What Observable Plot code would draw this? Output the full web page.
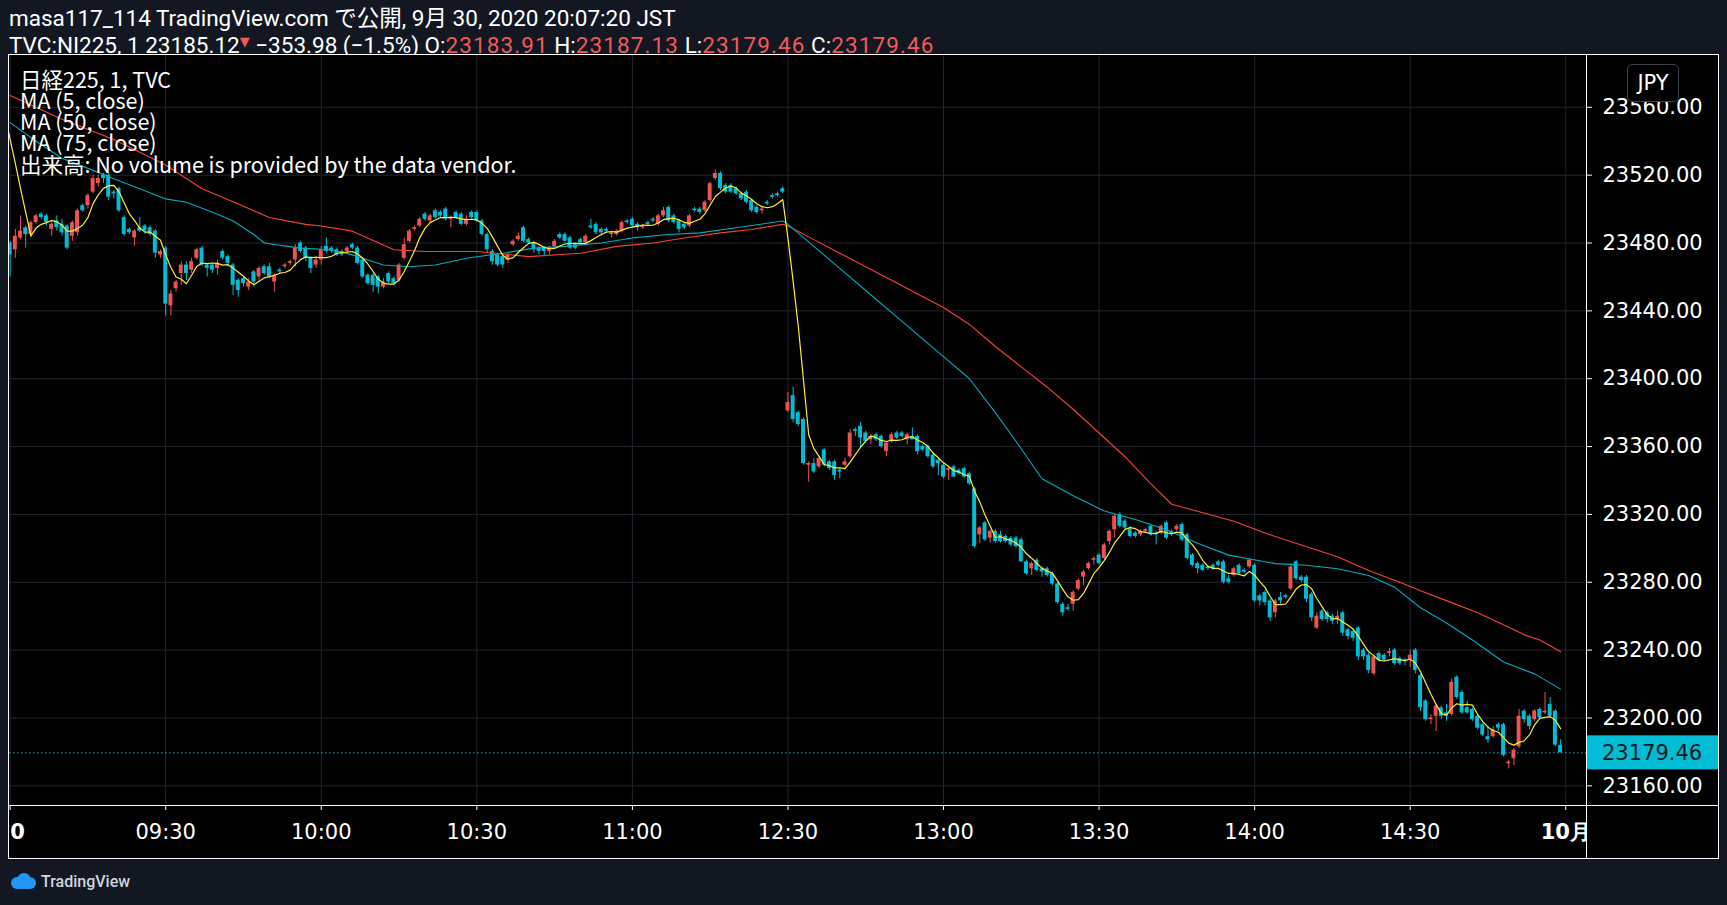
<!DOCTYPE html>
<html><head><meta charset="utf-8">
<script src="https://cdn.jsdelivr.net/npm/d3@7"></script>
<script src="https://cdn.jsdelivr.net/npm/@observablehq/plot@0.6"></script>
<style>
html,body{margin:0;padding:0;background:#131722;}
body{width:1727px;height:905px;position:relative;overflow:hidden;font-family:Roboto,"Noto Sans CJK JP",sans-serif;color:#fff;}
.hdr{position:absolute;left:9px;white-space:nowrap;font-size:22.5px;line-height:23px;color:#fff;}
.red{color:#f05a5a;letter-spacing:1.1px;}
.tri{font-size:13px;vertical-align:7px;color:#f05a5a;font-family:"DejaVu Sans";}
#panel{position:absolute;left:8px;top:54px;width:1709px;height:803px;border:1px solid #fff;background:#000;overflow:hidden;}
.leg{position:absolute;left:11px;font-family:"Noto Sans CJK JP",sans-serif;font-size:21.5px;line-height:21px;height:21px;white-space:nowrap;color:#fff;}
#jpy{position:absolute;left:1627px;top:64px;width:50px;height:36px;border:1px solid #3a3e4a;border-radius:5px;background:#000;color:#fff;font-family:"DejaVu Sans";font-size:21px;line-height:36px;text-align:center;}
#foot{position:absolute;left:9px;top:870px;height:22px;display:flex;align-items:center;gap:4px;font-family:Roboto,sans-serif;font-size:16px;font-weight:500;color:#d1d4dc;}
</style></head><body>
<div class="hdr" style="top:7px">masa117_114 TradingView.com で公開, 9月 30, 2020 20:07:20 JST</div>
<div class="hdr" style="top:30px">TVC:NI225, 1 23185.12<span class="tri">▼</span> −353.98 (−1.5%) O:<span class="red">23183.91</span> H:<span class="red">23187.13</span> L:<span class="red">23179.46</span> C:<span class="red">23179.46</span></div>
<div id="panel"></div>
<div id="jpy">JPY</div>
<div id="foot"><svg width="28" height="18" viewBox="0 0 28 18"><circle cx="8" cy="11" r="6" fill="#2196f3"/><circle cx="15" cy="8" r="7" fill="#2196f3"/><circle cx="21" cy="11" r="6" fill="#2196f3"/><rect x="8" y="11" width="13" height="6" fill="#2196f3"/></svg><span>TradingView</span></div>
<script>
// ---- data (1-minute bars, 09:00-11:29 and 12:30-14:59, index = bar number) ----
const opens = [
23480,23476,23483,23489,23485,23492,23497,23496,23488,23493,
23491,23490,23484,23486,23502,23502,23510,23515,23520,23520,
23510,23512,23495,23488,23483,23489,23490,23489,23487,23473,
23477,23443,23453,23462,23467,23464,23471,23477,23467,23467,
23465,23475,23472,23467,23458,23459,23454,23463,23460,23466,
23466,23457,23464,23466,23468,23470,23480,23477,23471,23467,
23470,23478,23477,23476,23475,23475,23479,23477,23470,23461,
23461,23460,23454,23462,23459,23458,23471,23481,23488,23490,
23497,23493,23499,23498,23500,23494,23498,23497,23491,23498,
23498,23493,23485,23475,23473,23472,23470,23479,23482,23489,
23482,23480,23477,23477,23475,23478,23485,23485,23483,23479,
23482,23480,23490,23491,23488,23488,23485,23485,23487,23493,
23494,23491,23489,23492,23494,23491,23496,23501,23496,23493,
23491,23490,23500,23500,23499,23505,23518,23521,23514,23514,
23512,23509,23510,23505,23501,23499,23504,23508,23509,23512,
23381,23390,23380,23376,23349,23350,23348,23358,23351,23351,
23346,23349,23354,23370,23372,23368,23364,23367,23366,23357,
23363,23368,23368,23364,23366,23366,23360,23360,23355,23352,
23349,23346,23348,23346,23347,23344,23335,23308,23315,23306,
23310,23308,23307,23306,23306,23305,23292,23288,23293,23288,
23288,23285,23279,23267,23265,23267,23276,23283,23288,23293,
23296,23294,23304,23311,23320,23316,23311,23309,23308,23310,
23313,23309,23309,23315,23310,23311,23314,23308,23296,23291,
23290,23289,23290,23292,23292,23282,23284,23290,23287,23289,
23290,23272,23274,23269,23262,23271,23272,23276,23292,23283,
23283,23273,23253,23263,23262,23260,23258,23262,23252,23251,
23253,23240,23237,23226,23238,23237,23238,23240,23235,23234,
23234,23240,23225,23210,23199,23201,23206,23203,23202,23224,
23215,23206,23205,23201,23196,23189,23189,23196,23196,23173,
23176,23183,23204,23201,23199,23205,23203,23208,23204,23183.91];
const highs = [
23481,23488,23496,23490,23493,23497,23498,23497,23492,23496,
23494,23491,23493,23500,23503,23509,23520,23520,23521,23521,
23511,23513,23496,23489,23488,23495,23491,23490,23488,23476,
23478,23452,23458,23469,23469,23471,23477,23478,23468,23468,
23470,23476,23473,23468,23459,23460,23459,23464,23466,23467,
23468,23462,23465,23468,23470,23479,23481,23478,23472,23472,
23478,23483,23478,23477,23476,23478,23480,23478,23471,23462,
23462,23461,23459,23463,23460,23468,23483,23488,23490,23495,
23498,23497,23500,23499,23501,23496,23499,23498,23496,23499,
23499,23494,23486,23476,23474,23473,23474,23482,23486,23490,
23483,23481,23478,23478,23478,23482,23486,23486,23484,23480,
23483,23485,23494,23492,23489,23489,23487,23488,23493,23494,
23495,23492,23491,23493,23495,23497,23501,23502,23497,23494,
23492,23497,23501,23501,23505,23516,23523,23522,23515,23515,
23513,23510,23511,23506,23502,23501,23505,23509,23510,23513,
23392,23395,23381,23377,23351,23353,23354,23359,23352,23352,
23347,23353,23370,23371,23374,23369,23367,23368,23367,23363,
23368,23369,23369,23368,23371,23367,23361,23361,23356,23353,
23350,23348,23349,23347,23348,23345,23336,23313,23316,23311,
23311,23310,23308,23307,23307,23306,23293,23292,23294,23289,
23289,23286,23280,23268,23267,23275,23282,23287,23292,23295,
23297,23303,23311,23320,23321,23317,23313,23310,23311,23312,
23314,23310,23314,23316,23311,23314,23315,23309,23297,23292,
23291,23290,23291,23293,23293,23284,23289,23291,23288,23294,
23291,23273,23275,23270,23270,23274,23273,23291,23293,23284,
23284,23274,23262,23264,23263,23261,23263,23263,23253,23252,
23254,23241,23238,23237,23239,23238,23241,23241,23236,23235,
23240,23241,23226,23211,23202,23208,23207,23208,23223,23225,
23216,23210,23206,23202,23197,23195,23195,23197,23197,23175,
23182,23205,23205,23202,23205,23206,23215,23212,23205,23187.13];
const lows = [
23460,23471,23482,23477,23483,23491,23494,23490,23484,23487,
23484,23476,23481,23484,23498,23500,23509,23513,23515,23505,
23506,23498,23484,23485,23478,23486,23485,23484,23471,23471,
23437,23437,23451,23455,23458,23462,23470,23466,23460,23462,
23461,23470,23466,23449,23448,23454,23452,23454,23458,23461,
23459,23451,23462,23465,23467,23466,23474,23469,23462,23465,
23467,23474,23474,23472,23472,23474,23476,23467,23459,23455,
23451,23450,23453,23456,23455,23457,23470,23480,23487,23489,
23493,23492,23494,23495,23493,23489,23494,23490,23490,23494,
23492,23484,23474,23467,23466,23465,23468,23478,23481,23480,
23479,23474,23473,23472,23473,23477,23482,23480,23476,23476,
23479,23479,23488,23485,23484,23486,23483,23484,23486,23491,
23489,23487,23488,23490,23492,23490,23495,23492,23491,23486,
23488,23489,23498,23497,23498,23504,23517,23511,23509,23509,
23508,23505,23503,23498,23497,23497,23502,23506,23507,23509,
23380,23374,23372,23349,23339,23344,23347,23348,23346,23340,
23341,23348,23353,23366,23359,23362,23361,23363,23359,23354,
23362,23364,23365,23361,23364,23355,23357,23353,23347,23343,
23341,23340,23342,23343,23341,23337,23300,23303,23304,23303,
23303,23303,23303,23301,23300,23292,23284,23284,23286,23283,
23283,23278,23267,23260,23263,23263,23275,23278,23287,23290,
23290,23293,23302,23306,23312,23311,23306,23306,23307,23309,
23307,23302,23308,23305,23307,23310,23304,23293,23289,23285,
23286,23287,23287,23289,23279,23279,23283,23284,23285,23288,
23268,23266,23266,23257,23259,23267,23270,23275,23281,23280,
23268,23257,23252,23257,23256,23255,23255,23248,23246,23245,
23234,23234,23226,23225,23233,23233,23236,23231,23231,23231,
23230,23226,23204,23198,23196,23192,23199,23198,23201,23211,
23202,23202,23198,23193,23189,23185,23188,23192,23177,23170,
23172,23182,23197,23193,23198,23199,23202,23200,23183,23179.46];
const closes = [
23473,23484,23487,23485,23492,23496,23495,23492,23491,23489,
23486,23477,23492,23499,23499,23508,23518,23518,23518,23507,
23509,23499,23485,23486,23487,23487,23487,23485,23474,23475,
23444,23450,23457,23467,23462,23469,23476,23467,23465,23464,
23468,23471,23468,23455,23452,23456,23457,23457,23465,23462,
23460,23461,23463,23467,23469,23477,23475,23471,23465,23470,
23476,23475,23475,23473,23473,23477,23477,23468,23460,23456,
23455,23454,23457,23457,23456,23467,23479,23487,23489,23494,
23494,23496,23495,23496,23494,23495,23495,23491,23494,23495,
23493,23485,23476,23469,23467,23467,23473,23481,23484,23481,
23480,23476,23475,23475,23477,23481,23483,23481,23477,23477,
23480,23484,23489,23486,23486,23487,23486,23487,23492,23492,
23490,23489,23490,23491,23493,23496,23499,23493,23492,23488,
23489,23496,23499,23498,23504,23515,23521,23512,23510,23510,
23509,23506,23504,23499,23498,23500,23503,23507,23508,23510,
23386,23376,23373,23350,23350,23345,23353,23349,23347,23343,
23345,23351,23368,23369,23365,23363,23366,23364,23360,23362,
23367,23365,23366,23367,23364,23357,23358,23354,23348,23350,
23342,23347,23342,23344,23342,23338,23301,23312,23305,23310,
23304,23304,23304,23302,23301,23292,23285,23291,23287,23286,
23284,23279,23268,23262,23264,23274,23281,23286,23291,23294,
23291,23302,23310,23319,23313,23312,23307,23307,23310,23311,
23308,23308,23313,23306,23308,23313,23305,23294,23290,23288,
23287,23288,23288,23290,23280,23280,23288,23285,23286,23293,
23269,23269,23268,23259,23269,23269,23271,23289,23282,23281,
23270,23259,23260,23258,23258,23257,23260,23250,23248,23247,
23236,23236,23228,23236,23234,23234,23239,23232,23232,23233,
23237,23228,23206,23199,23200,23207,23201,23201,23221,23212,
23203,23203,23199,23194,23190,23187,23193,23194,23178,23174,
23181,23201,23199,23195,23204,23200,23204,23201,23184,23179.46];

// MA(5) just before/at the session open (includes previous-day bars)
const ma5LeadBars = [-1, 0, 1, 2, 3];
const ma5LeadVals = [23556, 23541, 23527, 23512, 23498];
// MA(50) and MA(75)
const ma50Bars = [0,5,10,15,19,25,30,34,40,43,47,49,56,62,66,69,72,77,82,88,95,101,107,114,120,127,133,140,149,150,155,160,165,170,175,180,185,190,194,199,205,211,217,223,229,235,244,250,256,262,267,272,277,282,288,294,299];
const ma50Vals = [23551,23540,23530,23524,23519,23512,23506,23504,23497,23493,23485,23480,23477,23476,23473,23470,23467,23466,23467,23471,23474,23477,23478,23480,23483,23485,23486,23489,23493,23491,23478,23465,23452,23439,23426,23413,23400,23380,23363,23341,23331,23322,23317,23311,23303,23296,23291,23290,23288,23284,23277,23265,23256,23246,23233,23226,23217];
const ma75Bars = [0,10,20,30,37,44,50,57,60,66,74,80,90,100,110,117,124,130,137,143,149,150,155,160,165,170,175,180,185,190,195,200,205,210,215,220,224,230,236,242,249,256,262,268,272,278,283,288,292,295,299];
const ma75Vals = [23567,23553,23541,23526,23512,23503,23495,23491,23490,23487,23476,23475,23475,23472,23474,23478,23480,23483,23486,23488,23491,23490,23482,23474,23466,23458,23450,23442,23432,23419,23407,23395,23382,23368,23354,23338,23326,23321,23316,23309,23302,23295,23287,23280,23275,23268,23262,23255,23249,23246,23239];

const tickBars = [0, 30, 60, 90, 120, 150, 180, 210, 240, 270, 300];
const tickLabels = ["30", "09:30", "10:00", "10:30", "11:00", "12:30", "13:00", "13:30", "14:00", "14:30", "10月"];
const priceTicks = [23160, 23200, 23240, 23280, 23320, 23360, 23400, 23440, 23480, 23520, 23560];
const lastPrice = 23179.46;

// ---- build ----
const UP = "#ef5350", DOWN = "#00bcd4", GRID = "#23262f";
const candles = closes.map((c, i) => ({i, o: opens[i], h: highs[i], l: lows[i], c}));
const ma5 = ma5LeadBars.map((b, k) => ({i: b, v: ma5LeadVals[k]}))
  .concat(closes.map((c, i) => i < 4 ? null : {i, v: d3.mean(closes.slice(i - 4, i + 1))}).filter(d => d));
const ma50 = ma50Bars.map((b, k) => ({i: b, v: ma50Vals[k]}));
const ma75 = ma75Bars.map((b, k) => ({i: b, v: ma75Vals[k]}));
const lab = d => tickLabels[tickBars.indexOf(d)];
const col = d => d.c >= d.o ? UP : DOWN;

const W = 1709, H = 803, MR = 132, MB = 53;
const plot = Plot.plot({
  width: W, height: H,
  marginLeft: 0, marginRight: MR, marginTop: 0, marginBottom: MB,
  style: {background: "#000", color: "#fff", fontFamily: "DejaVu Sans", fontSize: "21px", overflow: "hidden"},
  x: {type: "linear", domain: [-0.125, 304.0], axis: null},
  y: {type: "linear", domain: [23148.4, 23590.54], axis: null},
  marks: [
    Plot.gridX(tickBars, {stroke: GRID, strokeOpacity: 1}),
    Plot.gridY(priceTicks, {stroke: GRID, strokeOpacity: 1}),
    Plot.ruleY([lastPrice], {stroke: DOWN, strokeDasharray: "1.5,2.5", strokeWidth: 1}),
    Plot.ruleX(candles, {x: "i", y1: "l", y2: "h", stroke: col, strokeWidth: 1}),
    Plot.rect(candles, {
      x1: d => d.i - 0.38, x2: d => d.i + 0.38,
      y1: "o", y2: d => Math.abs(d.c - d.o) < 0.6 ? d.o + (d.c >= d.o ? 0.6 : -0.6) : d.c,
      fill: col
    }),
    Plot.line(ma75, {x: "i", y: "v", stroke: "#f44336", strokeWidth: 1.1}),
    Plot.line(ma50, {x: "i", y: "v", stroke: "#00acc1", strokeWidth: 1.1}),
    Plot.line(ma5, {x: "i", y: "v", stroke: "#ffeb3b", strokeWidth: 1.2}),
    Plot.axisY(priceTicks, {anchor: "right", label: null, tickSize: 5, tickPadding: 11, tickFormat: d => d.toFixed(2), fontSize: 21, fill: "#fff", stroke: "#fff"}),
    Plot.axisX(tickBars, {anchor: "bottom", label: null, tickSize: 5, tickPadding: 14, tickFormat: lab, fontSize: 21, fill: "#fff", stroke: "#fff"})
  ]
});
document.getElementById("panel").appendChild(plot);

const svg = d3.select(plot);
svg.selectAll("text").filter(function () { return this.textContent === "30" || this.textContent === "10月"; })
  .attr("font-weight", "bold");
// axis separator lines
svg.append("line").attr("x1", 0).attr("x2", W).attr("y1", H - MB + 0.5).attr("y2", H - MB + 0.5).attr("stroke", "#fff");
svg.append("line").attr("x1", W - MR + 0.5).attr("x2", W - MR + 0.5).attr("y1", 0).attr("y2", H).attr("stroke", "#fff");
// last price label
const yp = plot.scale("y").apply(lastPrice);
svg.append("rect").attr("x", W - MR + 1).attr("y", yp - 17).attr("width", MR).attr("height", 34).attr("fill", DOWN);
svg.append("text").attr("x", W - MR + 16).attr("y", yp).attr("dy", "0.36em").attr("fill", "#131722")
  .attr("text-anchor", "start").attr("font-family", "DejaVu Sans").attr("font-size", 21).text(lastPrice.toFixed(2));

// legend
const legendLines = ["日経225, 1, TVC", "MA (5, close)", "MA (50, close)", "MA (75, close)", "出来高: No volume is provided by the data vendor."];
legendLines.forEach((t, k) => {
  const d = document.createElement("div");
  d.className = "leg";
  d.style.top = (12.5 + k * 21.3) + "px";
  d.textContent = t;
  document.getElementById("panel").appendChild(d);
});
</script>
</body></html>
